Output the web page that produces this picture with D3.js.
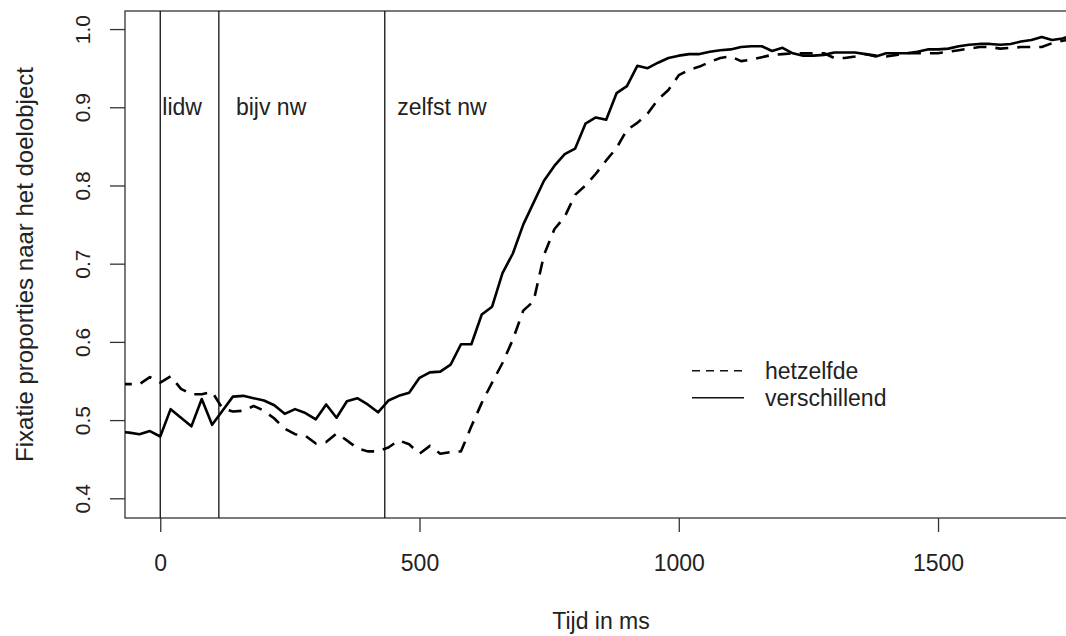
<!DOCTYPE html>
<html>
<head>
<meta charset="utf-8">
<script src="https://cdn.jsdelivr.net/npm/d3@7"></script>
<style>
  html, body { margin: 0; padding: 0; background: #fff; }
  svg { display: block; font-family: "Liberation Sans", Arial, sans-serif; }
</style>
</head>
<body>
<svg id="chart" width="1066" height="636"></svg>
<script>
// ---- data ----
const times = [-80,-60,-40,-20,0,20,40,60,80,100,120,140,160,180,200,220,240,260,280,300,
  320,340,360,380,400,420,440,460,480,500,520,540,560,580,600,620,640,660,680,700,
  720,740,760,780,800,820,840,860,880,900,920,940,960,980,1000,1020,1040,1060,1080,1100,
  1120,1140,1160,1180,1200,1220,1240,1260,1280,1300,1320,1340,1360,1380,1400,1420,1440,1460,1480,1500,
  1520,1540,1560,1580,1600,1620,1640,1660,1680,1700,1720,1740,1760,1780];

const verschillend = [.485,.484,.482,.486,.479,.514,.503,.492,.527,.494,
  .512,.530,.531,.528,.525,.519,.508,.514,.509,.501,
  .520,.503,.524,.528,.520,.510,.525,.531,.535,.554,
  .561,.562,.571,.597,.597,.635,.645,.688,.713,.750,
  .778,.806,.825,.840,.847,.879,.887,.884,.918,.927,
  .953,.950,.957,.963,.966,.968,.968,.971,.973,.974,
  .977,.978,.978,.972,.976,.969,.966,.966,.967,.970,
  .970,.970,.968,.965,.969,.969,.969,.971,.974,.974,
  .975,.978,.980,.981,.981,.980,.981,.984,.986,.990,
  .986,.988,.992,.992];

const hetzelfde = [.546,.546,.546,.555,.548,.556,.540,.533,.533,.536,
  .515,.511,.512,.518,.512,.502,.489,.482,.480,.470,
  .472,.483,.474,.464,.460,.460,.465,.474,.469,.457,
  .467,.457,.459,.460,.492,.522,.548,.573,.603,.640,
  .652,.711,.744,.760,.788,.800,.815,.832,.848,.871,
  .880,.892,.910,.922,.941,.948,.952,.958,.963,.965,
  .959,.961,.964,.967,.968,.969,.969,.969,.969,.963,
  .963,.965,.968,.966,.965,.967,.969,.969,.969,.969,
  .971,.973,.975,.977,.977,.975,.976,.977,.977,.977,
  .982,.985,.987,.988];

const wordOnsets = [0, 113, 433];
const wordLabels = ["lidw", "bijv nw", "zelfst nw"];
const wordLabelTimes = [4, 146, 457];
const xTicks = [0, 500, 1000, 1500];
const yTicks = [0.4, 0.5, 0.6, 0.7, 0.8, 0.9, 1.0];
const legendLabels = ["hetzelfde", "verschillend"];

// ---- layout ----
const svg = d3.select("#chart");
const L = 125, R = 1077, T = 11, B = 518;
const x = d3.scaleLinear().domain([-68, 1768]).range([L, R]);
const y = d3.scaleLinear().domain([0.3748, 1.0231]).range([B, T]);
const textCol = "#222";
const axisCol = "#333";

svg.append("defs").append("clipPath").attr("id", "plotclip")
  .append("rect").attr("x", L).attr("y", T).attr("width", R - L).attr("height", B - T);

// box
svg.append("rect").attr("x", L).attr("y", T).attr("width", R - L).attr("height", B - T)
  .attr("fill", "none").attr("stroke", axisCol).attr("stroke-width", 1.3);

// x axis
const gx = svg.append("g").attr("transform", `translate(0,${B})`)
  .call(d3.axisBottom(x).tickValues(xTicks).tickSize(14).tickSizeOuter(0).tickFormat(d3.format("d")));
gx.select(".domain").remove();
gx.selectAll(".tick line").attr("stroke", axisCol).attr("stroke-width", 1.3);
gx.selectAll(".tick text").attr("y", 53).attr("dy", null)
  .attr("fill", textCol).style("font-size", "23px");

// y axis
const gy = svg.append("g").attr("transform", `translate(${L},0)`)
  .call(d3.axisLeft(y).tickValues(yTicks).tickSize(15).tickSizeOuter(0).tickFormat(d3.format(".1f")));
gy.select(".domain").remove();
gy.selectAll(".tick line").attr("stroke", axisCol).attr("stroke-width", 1.3);
gy.selectAll(".tick text").attr("x", null).attr("dy", null).attr("text-anchor", "middle")
  .attr("transform", "translate(-35.5,0) rotate(-90)")
  .attr("fill", textCol).style("font-size", "21px");

// axis titles
svg.append("text").attr("x", (L + R) / 2).attr("y", 629).attr("text-anchor", "middle")
  .attr("fill", textCol).style("font-size", "23px").text("Tijd in ms");
svg.append("text").attr("text-anchor", "middle")
  .attr("transform", `translate(33,${(T + B) / 2}) rotate(-90)`)
  .attr("fill", textCol).style("font-size", "24px").text("Fixatie proporties naar het doelobject");

// vertical word-onset lines
svg.append("g").selectAll("line").data(wordOnsets).join("line")
  .attr("x1", d => x(d)).attr("x2", d => x(d)).attr("y1", T).attr("y2", B)
  .attr("stroke", "#111").attr("stroke-width", 1.3);

svg.append("g").selectAll("text").data(wordLabels).join("text")
  .attr("x", (d, i) => x(wordLabelTimes[i])).attr("y", y(0.9) + 8)
  .attr("fill", textCol).style("font-size", "23px").text(d => d);

// data lines
const line = d3.line().x((d, i) => x(times[i])).y(d => y(d));
const plot = svg.append("g").attr("clip-path", "url(#plotclip)");
plot.append("path").datum(hetzelfde).attr("d", line)
  .attr("fill", "none").attr("stroke", "#000").attr("stroke-width", 2.6)
  .attr("stroke-dasharray", "13,9").attr("stroke-linejoin", "round");
plot.append("path").datum(verschillend).attr("d", line)
  .attr("fill", "none").attr("stroke", "#000").attr("stroke-width", 2.6)
  .attr("stroke-linejoin", "round");

// legend
const legY = [370.7, 397.7];
const leg = svg.append("g");
leg.selectAll("line").data(legendLabels).join("line")
  .attr("x1", 692).attr("x2", 744).attr("y1", (d, i) => legY[i]).attr("y2", (d, i) => legY[i])
  .attr("stroke", "#111").attr("stroke-width", 1.5)
  .attr("stroke-dasharray", (d, i) => i === 0 ? "8,6" : null);
leg.selectAll("text").data(legendLabels).join("text")
  .attr("x", 765).attr("y", (d, i) => legY[i] + 8.5)
  .attr("fill", textCol).style("font-size", "23px").text(d => d);
</script>
</body>
</html>
